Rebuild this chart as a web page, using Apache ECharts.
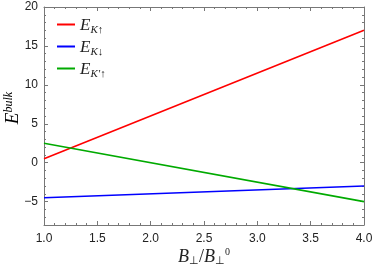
<!DOCTYPE html>
<html><head><meta charset="utf-8">
<script src="https://cdn.jsdelivr.net/npm/echarts@6/dist/echarts.min.js"></script>
<style>html,body{margin:0;padding:0;background:#fff}#c{width:374px;height:273px}</style>
</head><body><div id="c"></div>
<script>
const xValues = [1.0, 4.0];
const eKUp = [0.5, 17.0];
const eKDown = [-4.5, -3.0];
const eKpUp = [2.5, -5.0];
const xTicks = [1.0, 1.5, 2.0, 2.5, 3.0, 3.5, 4.0];
const yTicks = [-5, 0, 5, 10, 15, 20];

const seriesNames = ['EKup', 'EKdown', 'EKpup'];
const seriesData = [eKUp, eKDown, eKpUp];
const colors = ['#ff0000', '#0000ff', '#00aa00'];

const chart = echarts.init(document.getElementById('c'));
const axisLineStyle = { color: '#777', width: 1 };
const labelStyle = { color: '#222', fontFamily: 'Liberation Sans', fontSize: 12 };
const serif = 'Liberation Serif';
const rich = {
  e: { fontFamily: serif, fontStyle: 'italic', fontSize: 17, color: '#222' },
  s: { fontFamily: serif, fontStyle: 'italic', fontSize: 11, color: '#222', padding: [10, 0, 0, 0] },
  sa: { fontFamily: serif, fontSize: 11, color: '#222', padding: [10, 0, 0, 0] },
  sup: { fontFamily: serif, fontStyle: 'italic', fontSize: 12, color: '#222', padding: [0, 0, 9, 0] },
  b: { fontFamily: serif, fontStyle: 'italic', fontSize: 18, color: '#222' },
  sl: { fontFamily: serif, fontSize: 18, color: '#222' },
  perp: { fontFamily: serif, fontSize: 11, color: '#222', padding: [9, 0, 0, 0] },
  zero: { fontFamily: serif, fontSize: 10, color: '#222', padding: [0, 0, 10, 0] }
};
const legendText = {
  EKup: '{e|E}{s|K}{sa|↑}',
  EKdown: '{e|E}{s|K}{sa|↓}',
  EKpup: '{e|E}{s|K′}{sa|↑}'
};

const makeX = (show, pos) => ({
  type: 'value', min: 1, max: 4, interval: 0.5, position: pos,
  axisLine: { show: true, onZero: false, lineStyle: axisLineStyle },
  axisTick: { show: true, inside: true, length: 4, lineStyle: axisLineStyle },
  minorTick: { show: true, splitNumber: 5, length: 2, lineStyle: axisLineStyle },
  splitLine: { show: false },
  axisLabel: show ? Object.assign({ formatter: v => v.toFixed(1), margin: 8 }, labelStyle) : { show: false }
});
const makeY = (show, pos) => ({
  type: 'value', min: -8, max: 20, position: pos,
  axisLine: { show: true, onZero: false, lineStyle: axisLineStyle },
  axisTick: { show: true, inside: true, length: 4, lineStyle: axisLineStyle,
    customValues: yTicks },
  minorTick: { show: false },
  splitLine: { show: false },
  axisLabel: show ? Object.assign({ customValues: yTicks, formatter: v => (v < 0 ? '\u2212' + (-v) : '' + v), margin: 6 }, labelStyle) : { show: false }
});

const xMain = makeX(true, 'bottom');
xMain.name = '{b|B}{perp|⊥}{sl|/}{b|B}{perp|⊥}{zero|0}';
xMain.nameLocation = 'middle';
xMain.nameGap = 22;
xMain.nameMoveOverlap = false;
xMain.nameTextStyle = { rich: rich };
const yMain = makeY(true, 'left');

const yMinor = [];
for (let v = -8; v <= 20; v++) if (v % 5 !== 0) yMinor.push(v);

chart.setOption({
  animation: false,
  grid: { left: 44, right: 10, top: 7, bottom: 48, containLabel: false, outerBoundsMode: 'none' },
  xAxis: [xMain, makeX(false, 'top')],
  yAxis: [yMain, makeY(false, 'right'),
    { type: 'value', min: -8, max: 20, position: 'left', axisLine: { show: false },
      axisTick: { show: true, inside: true, length: 2, lineStyle: axisLineStyle, customValues: yMinor },
      axisLabel: { show: false }, splitLine: { show: false } },
    { type: 'value', min: -8, max: 20, position: 'right', axisLine: { show: false },
      axisTick: { show: true, inside: true, length: 2, lineStyle: axisLineStyle, customValues: yMinor },
      axisLabel: { show: false }, splitLine: { show: false } }
  ],
  graphic: [{
    type: 'text', x: 13, y: 108, rotation: Math.PI / 2,
    style: {
      text: '{e|E}{sup|bulk}', align: 'center', verticalAlign: 'middle',
      rich: Object.assign({}, rich, { e: Object.assign({}, rich.e, { fontSize: 19 }) })
    }
  }],
  legend: {
    orient: 'vertical', left: 52, top: 12, itemGap: 3, itemWidth: 18, itemHeight: 2,
    icon: 'rect',
    data: seriesNames,
    formatter: n => legendText[n],
    textStyle: { rich: rich, height: 19 }
  },
  series: seriesNames.map((n, i) => ({
    name: n, type: 'line', showSymbol: false, symbol: 'none',
    color: colors[i],
    lineStyle: { width: 1.6, color: colors[i] },
    data: xValues.map((x, j) => [x, seriesData[i][j]])
  }))
});
</script></body></html>
